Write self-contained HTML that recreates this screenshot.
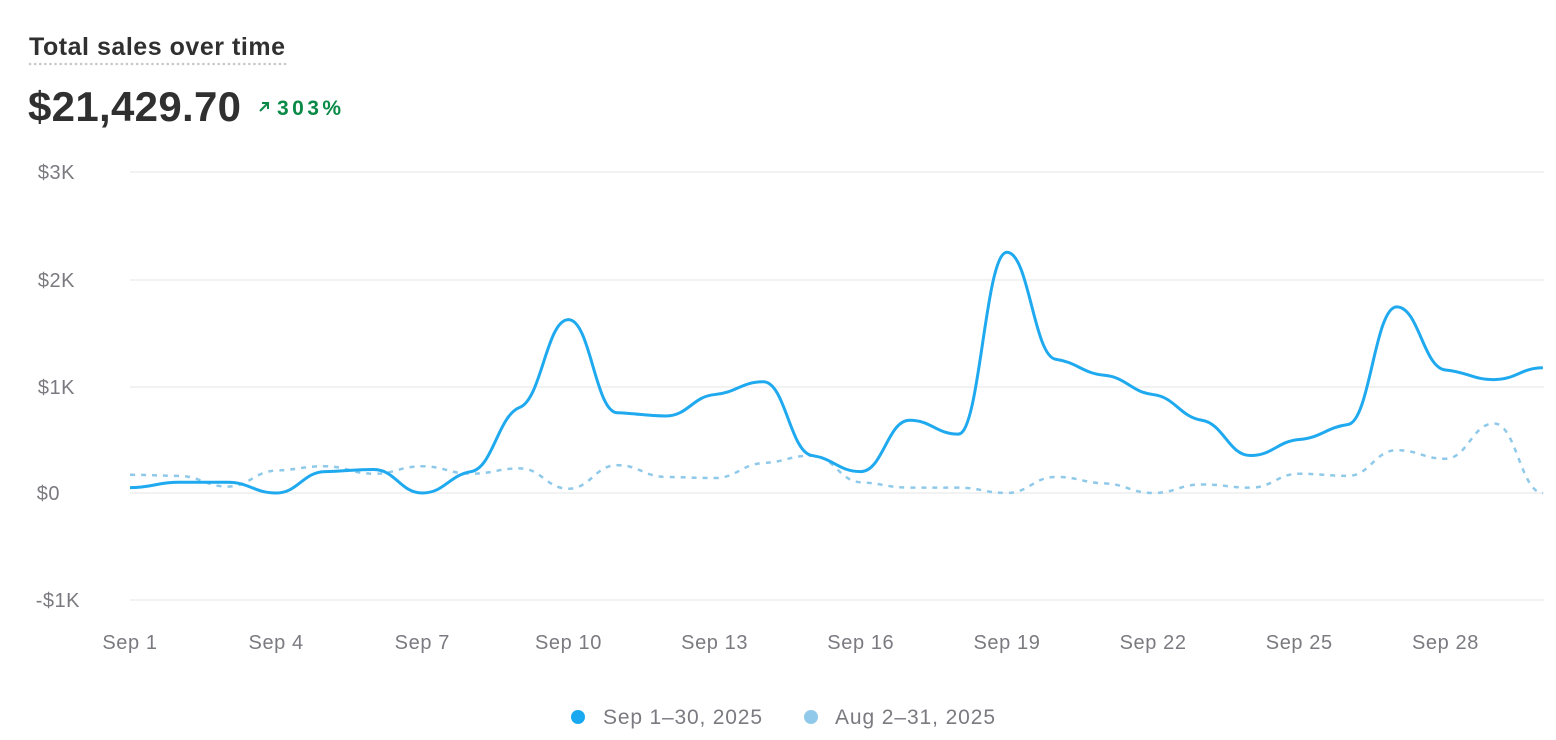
<!DOCTYPE html>
<html><head><meta charset="utf-8"><style>
html,body{margin:0;padding:0;background:#fff;width:1556px;height:740px;overflow:hidden;font-family:"Liberation Sans",sans-serif}
</style></head><body>
<svg id="s" width="1556" height="740" xmlns="http://www.w3.org/2000/svg" font-family="Liberation Sans, sans-serif">
<text x="29" y="55" font-size="25" font-weight="bold" fill="#303030" textLength="256">Total sales over time</text>
<line x1="30" y1="64" x2="286" y2="64" stroke="#c8c8c8" stroke-width="2.5" stroke-dasharray="0.1 5" stroke-linecap="round"/>
<text x="28" y="121" font-size="42" font-weight="bold" fill="#303030" textLength="213">$21,429.70</text>
<path d="M260 111 L268 103 M262 103 L268 103 L268 109" stroke="#0a8a47" stroke-width="2" fill="none"/>
<text x="277" y="115" font-size="21" font-weight="bold" fill="#0a8a47" textLength="64">303%</text>
<g stroke="#e6e6e6" stroke-width="1">
<line x1="130" y1="172" x2="1544" y2="172"/><line x1="130" y1="280" x2="1544" y2="280"/>
<line x1="130" y1="387" x2="1544" y2="387"/><line x1="130" y1="493" x2="1544" y2="493"/>
<line x1="130" y1="600" x2="1544" y2="600"/></g>
<g font-size="20" fill="#7a7a80" text-anchor="end" letter-spacing="0.5">
<text x="75" y="179">$3K</text><text x="75" y="287">$2K</text><text x="75" y="394">$1K</text>
<text x="60" y="500">$0</text><text x="80" y="607">-$1K</text></g>
<g font-size="20" fill="#7a7a80" text-anchor="middle" id="xl" letter-spacing="0.6"></g>
<path id="aug" fill="none" stroke="#8fc9ea" stroke-width="2.5" stroke-dasharray="5 6"/>
<path id="sep" fill="none" stroke="#1fa9ef" stroke-width="3"/>
<circle cx="578" cy="717" r="7" fill="#1aa9f0"/>
<text x="603" y="724" font-size="21" fill="#7a7a80" textLength="159">Sep 1–30, 2025</text>
<circle cx="811" cy="717" r="7" fill="#90c9ea"/>
<text x="835" y="724" font-size="21" fill="#7a7a80" textLength="160">Aug 2–31, 2025</text>
</svg>
<script>
var sep=[50,100,100,0,200,220,0,200,800,1620,750,720,920,1040,350,200,680,550,2250,1250,1100,920,680,350,500,640,1740,1150,1060,1170];
var aug=[170,160,60,210,250,180,250,180,230,40,260,150,140,280,350,100,50,50,0,150,90,0,80,50,180,160,400,320,650,0];
function X(i){return 130+i*48.72}function Y(v){return 493-v*0.1070}
function mono(d){var n=d.length,xs=[],ys=[],m=[],t=[];for(var i=0;i<n;i++){xs.push(X(i));ys.push(Y(d[i]));}
for(i=0;i<n-1;i++)m.push((ys[i+1]-ys[i])/(xs[i+1]-xs[i]));
t[0]=0;t[n-1]=0;for(i=1;i<n-1;i++){if(m[i-1]*m[i]<=0)t[i]=0;else t[i]=0.25*2*m[i-1]*m[i]/(m[i-1]+m[i]);}
var p="M"+xs[0]+" "+ys[0];for(i=0;i<n-1;i++){var h=(xs[i+1]-xs[i])*0.45;p+=" C"+(xs[i]+h)+" "+(ys[i]+t[i]*h)+" "+(xs[i+1]-h)+" "+(ys[i+1]-t[i+1]*h)+" "+xs[i+1]+" "+ys[i+1];}return p;}
document.getElementById("sep").setAttribute("d",mono(sep));
document.getElementById("aug").setAttribute("d",mono(aug));
var g=document.getElementById("xl");
for(var k=0;k<10;k++){var e=document.createElementNS("http://www.w3.org/2000/svg","text");e.setAttribute("x",X(k*3));e.setAttribute("y",649);e.textContent="Sep "+(1+k*3);g.appendChild(e);}
</script>
</body></html>
